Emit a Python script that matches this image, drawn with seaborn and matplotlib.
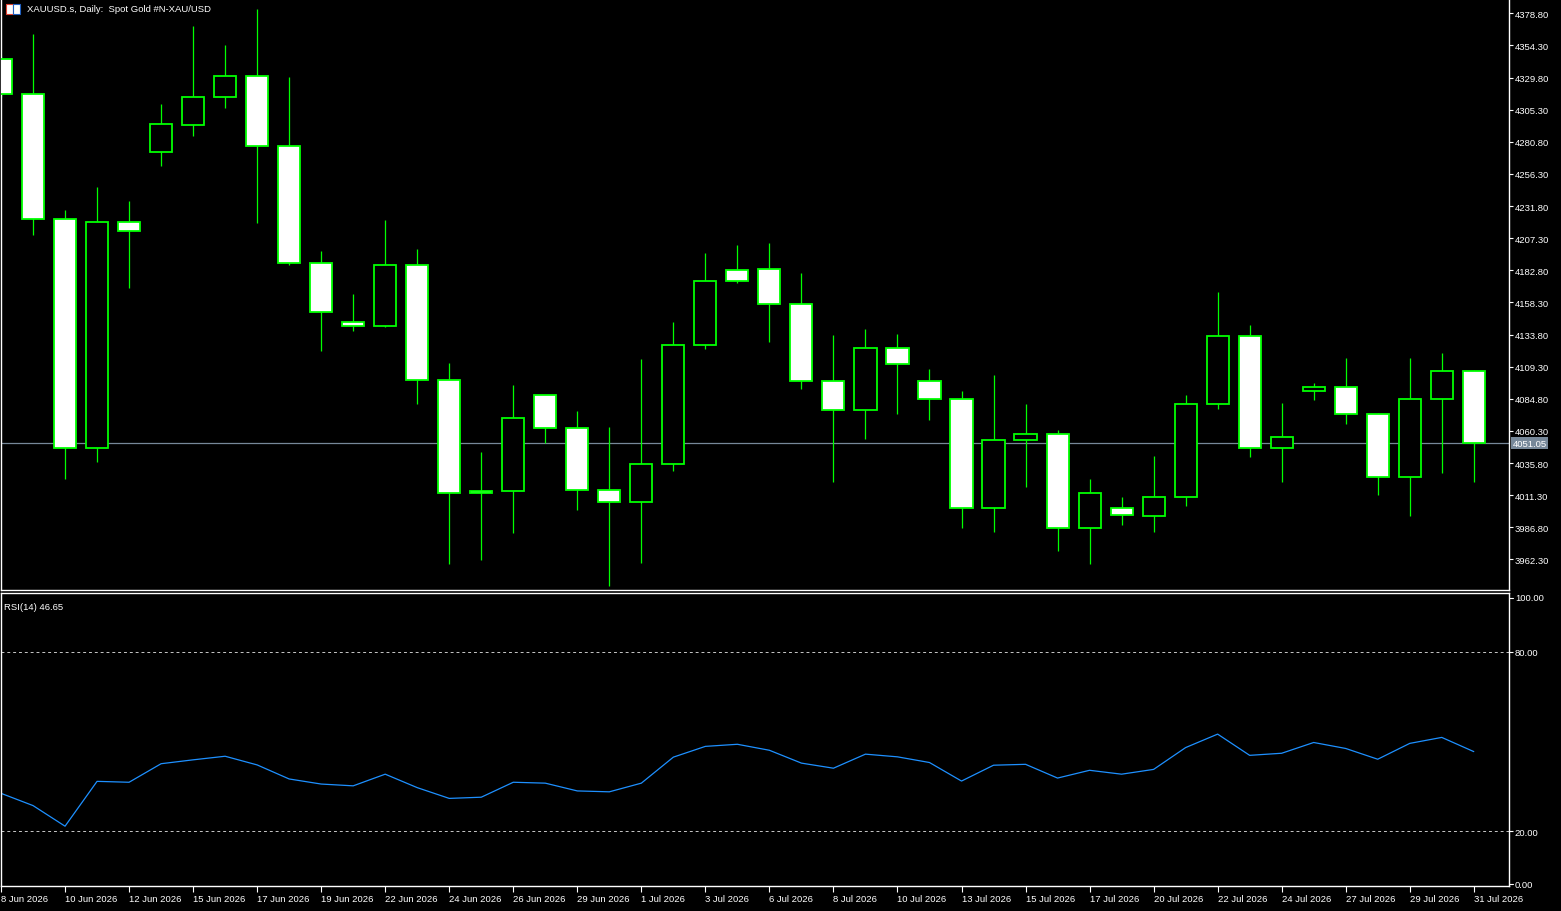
import matplotlib
matplotlib.use("Agg")
import matplotlib.pyplot as plt
import matplotlib.transforms as mtransforms
from matplotlib.patches import Rectangle
import numpy as np
import pandas as pd
import seaborn as sns

# ---------------- data ----------------
opens = [4343.6, 4317.6, 4222.0, 4047.2, 4219.7, 4273.0, 4293.8, 4315.1, 4330.6, 4277.9,
         4188.7, 4143.4, 4140.4, 4187.0, 4099.2, 4014.4, 4014.4, 4087.7, 4062.5, 4015.2,
         4006.0, 4035.0, 4125.9, 4183.2, 4184.0, 4157.3, 4098.4, 4076.3, 4123.6, 4098.4,
         4084.7, 4001.4, 4053.4, 4057.9, 3986.1, 4001.4, 3995.3, 4009.8, 4080.9, 4132.8,
         4047.2, 4090.8, 4093.8, 4073.2, 4025.1, 4084.7, 4106.1]
highs = [4346.0, 4362.8, 4228.7, 4246.3, 4235.3, 4309.6, 4369.2, 4354.5, 4382.2, 4330.1,
         4197.9, 4165.0, 4220.9, 4198.7, 4112.4, 4044.4, 4095.6, 4088.0, 4075.7, 4063.5,
         4115.5, 4143.7, 4195.7, 4201.8, 4203.3, 4180.4, 4133.8, 4138.4, 4134.6, 4107.8,
         4091.0, 4103.2, 4081.1, 4061.2, 4023.8, 4010.0, 4041.4, 4088.0, 4165.9, 4141.4,
         4081.9, 4097.1, 4116.2, 4074.0, 4116.2, 4120.1, 4107.0]
lows = [4315.0, 4209.7, 4023.4, 4036.3, 4169.6, 4262.1, 4285.1, 4306.4, 4218.9, 4186.9,
        4121.0, 4136.6, 4139.4, 4080.6, 3958.9, 3962.1, 3982.8, 4051.3, 4000.3, 3942.3,
        3959.9, 4030.1, 4122.6, 4173.0, 4127.9, 4092.0, 4021.7, 4053.8, 4072.9, 4068.3,
        3986.6, 3983.5, 4017.2, 3969.0, 3959.1, 3988.9, 3983.1, 4003.4, 4076.7, 4040.1,
        4021.7, 4083.6, 4065.3, 4011.8, 3995.8, 4028.6, 4021.0]
closes = [4317.6, 4222.0, 4047.2, 4219.7, 4212.9, 4294.0, 4315.3, 4330.6, 4277.9, 4188.7,
          4151.2, 4140.5, 4187.0, 4099.2, 4012.9, 4012.9, 4070.2, 4062.5, 4015.2, 4006.0,
          4035.0, 4125.9, 4174.8, 4174.8, 4157.3, 4098.4, 4076.3, 4123.6, 4111.4, 4084.4,
          4001.4, 4053.4, 4057.9, 3986.1, 4012.9, 3996.1, 4009.8, 4080.9, 4132.8, 4047.2,
          4055.7, 4093.8, 4073.2, 4025.1, 4084.7, 4106.1, 4051.05]
rsi = [32.7, 28.6, 21.7, 36.7, 36.4, 42.6, 43.9, 45.1, 42.2, 37.5,
       35.8, 35.2, 39.1, 34.6, 31.0, 31.4, 36.4, 36.1, 33.5, 33.2,
       36.1, 44.8, 48.4, 49.1, 47.1, 42.8, 41.1, 45.8, 44.9, 43.0,
       36.8, 42.1, 42.4, 37.8, 40.4, 39.1, 40.7, 48.0, 52.5, 45.4,
       46.1, 49.7, 47.7, 44.1, 49.4, 51.4, 46.65]
date_labels = ["8 Jun 2026", "10 Jun 2026", "12 Jun 2026", "15 Jun 2026", "17 Jun 2026",
               "19 Jun 2026", "22 Jun 2026", "24 Jun 2026", "26 Jun 2026", "29 Jun 2026",
               "1 Jul 2026", "3 Jul 2026", "6 Jul 2026", "8 Jul 2026", "10 Jul 2026",
               "13 Jul 2026", "15 Jul 2026", "17 Jul 2026", "20 Jul 2026", "22 Jul 2026",
               "24 Jul 2026", "27 Jul 2026", "29 Jul 2026", "31 Jul 2026"]
price_ticks = [3962.3, 3986.8, 4011.3, 4035.8, 4060.3, 4084.8, 4109.3, 4133.8, 4158.3,
               4182.8, 4207.3, 4231.8, 4256.3, 4280.8, 4305.3, 4329.8, 4354.3, 4378.8]
rsi_levels = [20, 80]
rsi_scale = [0, 100]
last_price = 4051.05
title_text = "XAUUSD.s, Daily:  Spot Gold #N-XAU/USD"
rsi_title = "RSI(14) 46.65"

df = pd.DataFrame({"open": opens, "high": highs, "low": lows, "close": closes, "rsi": rsi})
df["idx"] = np.arange(len(df))
df["bull"] = df["close"] >= df["open"]

# ---------------- style ----------------
sns.set_theme(style="dark", rc={
    "axes.facecolor": "black", "figure.facecolor": "black",
    "axes.edgecolor": "white", "text.color": "white",
    "xtick.color": "white", "ytick.color": "white",
    "axes.grid": False,
})
plt.rcParams["font.family"] = ["Liberation Sans", "DejaVu Sans"]

W, H = 1561, 912
fig = plt.figure(figsize=(W / 100, H / 100), dpi=100)

def frac_box(x0, y0, x1, y1):
    return [x0 / W, 1 - y1 / H, (x1 - x0) / W, (y1 - y0) / H]

ax = fig.add_axes(frac_box(1, 0, 1509, 591))
ax2 = fig.add_axes(frac_box(1, 594, 1509, 887), sharex=ax)

GREEN = "#00FF00"
FS = 6.8

# ---------------- candles ----------------
ax.vlines(df["idx"], df["low"], df["high"], color=GREEN, linewidth=0.9, zorder=2)
body_bottom = df[["open", "close"]].min(axis=1)
body_height = (df["close"] - df["open"]).abs()
face = np.where(df["bull"], "black", "white")
ax.bar(df["idx"], body_height, bottom=body_bottom, width=0.69, color=face,
       edgecolor=GREEN, linewidth=1.3, zorder=3)

ax.axhline(last_price, color="#778899", linewidth=0.9, zorder=1)

ax.set_xlim(0, 47.1)
ax.set_ylim(3939.0, 4389.7)
ax.yaxis.tick_right()
ax.set_yticks(price_ticks)
ax.set_yticklabels([f"{v:.2f}" for v in price_ticks])
ax.tick_params(axis="y", which="both", length=3, width=0.8, pad=1, labelsize=FS,
               colors="white", direction="out", right=True, left=False)
ax.tick_params(axis="x", bottom=False, labelbottom=False)
for s in ["left", "right", "bottom"]:
    ax.spines[s].set_color("white")
    ax.spines[s].set_linewidth(1.0)
ax.spines["top"].set_visible(False)

trans = mtransforms.blended_transform_factory(ax.transAxes, ax.transData)
ax.text(1.0025, last_price, f"{last_price:.2f}", transform=trans, ha="left", va="center",
        fontsize=FS, color="white",
        bbox=dict(boxstyle="square,pad=0.15", facecolor="#778899", edgecolor="none"),
        zorder=5, clip_on=False)

fig.text(27 / W, 1 - 10 / H, title_text, ha="left", va="center", fontsize=FS, color="white")
fig.add_artist(Rectangle((6 / W, 1 - 15 / H), 7 / W, 10 / H, transform=fig.transFigure,
                         facecolor="white", edgecolor="#E04030", linewidth=0.8))
fig.add_artist(Rectangle((13 / W, 1 - 15 / H), 7 / W, 10 / H, transform=fig.transFigure,
                         facecolor="white", edgecolor="#2060C0", linewidth=0.8))

# ---------------- RSI ----------------
sns.lineplot(data=df, x="idx", y="rsi", ax=ax2, color="#1E90FF", linewidth=0.9)
for lv in rsi_levels:
    ax2.axhline(lv, color="#C8C8C8", linewidth=0.7, linestyle=(0, (3, 3)))
# MT4 keeps a small margin inside the 0..100 scale
ax2.set_ylim(1.7, 99.7)
ax2.yaxis.tick_right()
ax2.set_yticks(rsi_levels)
ax2.set_yticklabels([f"{v:.2f}" for v in rsi_levels])
ax2.tick_params(axis="y", length=3, width=0.8, pad=1, labelsize=FS, colors="white",
                right=True, left=False)
# scale max / min labels, drawn at the panel edges like the terminal does
for val, yfrac in zip(rsi_scale, [0.006, 0.983]):
    ax2.text(1.0, yfrac, "", transform=ax2.transAxes)
    ax2.annotate(f"{val:.2f}", xy=(1.0, yfrac), xycoords="axes fraction",
                 xytext=(4.2, 0), textcoords="offset points", ha="left", va="center",
                 fontsize=FS, color="white", annotation_clip=False)
    ax2.plot([1.0, 1.0027], [yfrac, yfrac], transform=ax2.transAxes, color="white",
             linewidth=0.8, clip_on=False)
ax2.set_xticks(df["idx"][::2])
ax2.set_xticklabels(date_labels)
ax2.tick_params(axis="x", length=4, width=0.8, pad=2, labelsize=FS, colors="white",
                bottom=True)
for lab in ax2.get_xticklabels():
    lab.set_ha("left")
ax2.set_xlabel("")
ax2.set_ylabel("")
for s in ["left", "right", "bottom", "top"]:
    ax2.spines[s].set_color("white")
    ax2.spines[s].set_linewidth(1.0)
ax2.text(0.002, 0.97, rsi_title, transform=ax2.transAxes, ha="left", va="top",
         fontsize=FS, color="white")

fig.savefig("out.png", dpi=100, facecolor="black")
